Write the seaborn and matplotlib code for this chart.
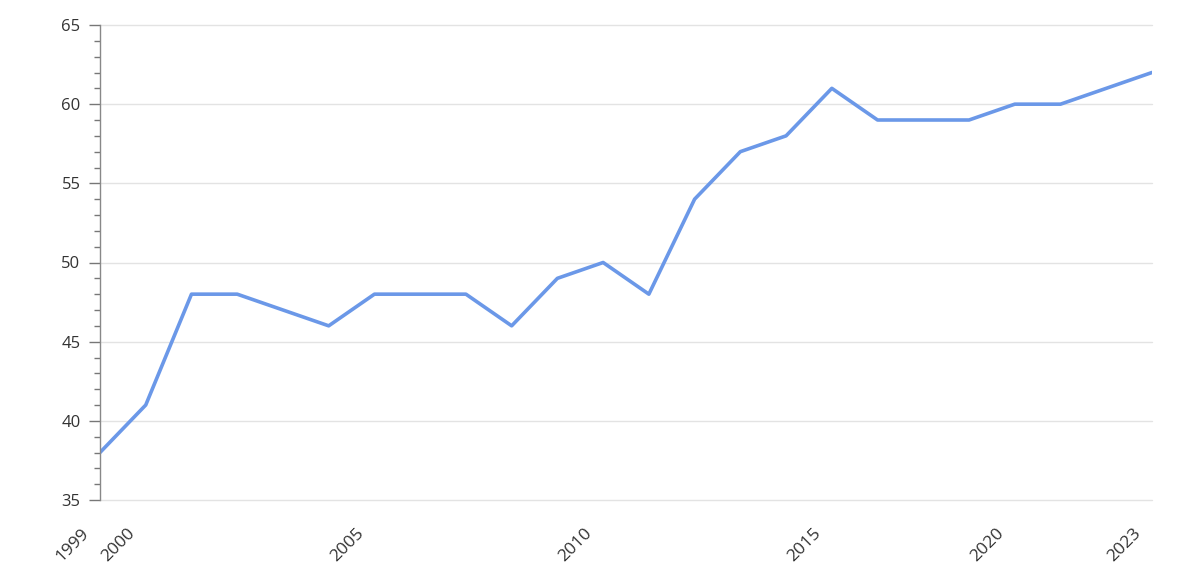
import matplotlib
matplotlib.use("Agg")
import matplotlib.pyplot as plt
import matplotlib.transforms as mtransforms
import numpy as np
import pandas as pd
import seaborn as sns
from matplotlib.ticker import MultipleLocator

# one year between 2015 and 2020 has no observation
years = [1999, 2000, 2001, 2002, 2003, 2004, 2005, 2006, 2007, 2008, 2009, 2010,
         2011, 2012, 2013, 2014, 2015, 2016, 2018, 2019, 2020, 2021, 2022, 2023]
values = [38, 41, 48, 48, 47, 46, 48, 48, 48, 46, 49, 50,
          48, 54, 57, 58, 61, 59, 59, 59, 60, 60, 61, 62]
shown_years = [1999, 2000, 2005, 2010, 2015, 2020, 2023]

df = pd.DataFrame({"pos": np.arange(len(years)), "year": years, "value": values})

sns.set_theme(style="white")
plt.rcParams["font.family"] = ["Open Sans", "DejaVu Sans"]

fig = plt.figure(figsize=(12, 5.83), dpi=100)
ax = fig.add_axes([100 / 1200, 1 - 500 / 583, 1052 / 1200, 475 / 583])

sns.lineplot(data=df, x="pos", y="value", ax=ax, color="#6b98e8", linewidth=2.6)

ax.set_xlim(0, len(years) - 1)
ax.set_ylim(35, 65)
ax.yaxis.set_major_locator(MultipleLocator(5))
ax.yaxis.set_minor_locator(MultipleLocator(1))
ax.grid(axis="y", which="major", color="#e3e3e3", linewidth=1)
ax.set_axisbelow(True)
for gl in ax.get_ygridlines():
    gl.set_clip_on(False)

# rotated year labels, anchored a little left of and below each position
ax.set_xticks([])
label_tf = ax.get_xaxis_transform() + mtransforms.ScaledTranslation(
    -19 / 100, -25 / 100, fig.dpi_scale_trans)
for y in shown_years:
    ax.text(years.index(y), 0, str(y), transform=label_tf, rotation=45,
            ha="right", va="top", rotation_mode="anchor", fontsize=12.5,
            color="#333333", clip_on=False)

ax.tick_params(axis="y", which="major", length=8, width=1, color="#777777",
               labelsize=12, labelcolor="#333333", pad=6, left=True)
ax.tick_params(axis="y", which="minor", length=4, width=1, color="#777777", left=True)

for side in ["top", "right", "bottom"]:
    ax.spines[side].set_visible(False)
ax.spines["left"].set_color("#888888")
ax.spines["left"].set_linewidth(1)

ax.set_xlabel("")
ax.set_ylabel("")

fig.savefig("out.png", dpi=100)
plt.close(fig)
